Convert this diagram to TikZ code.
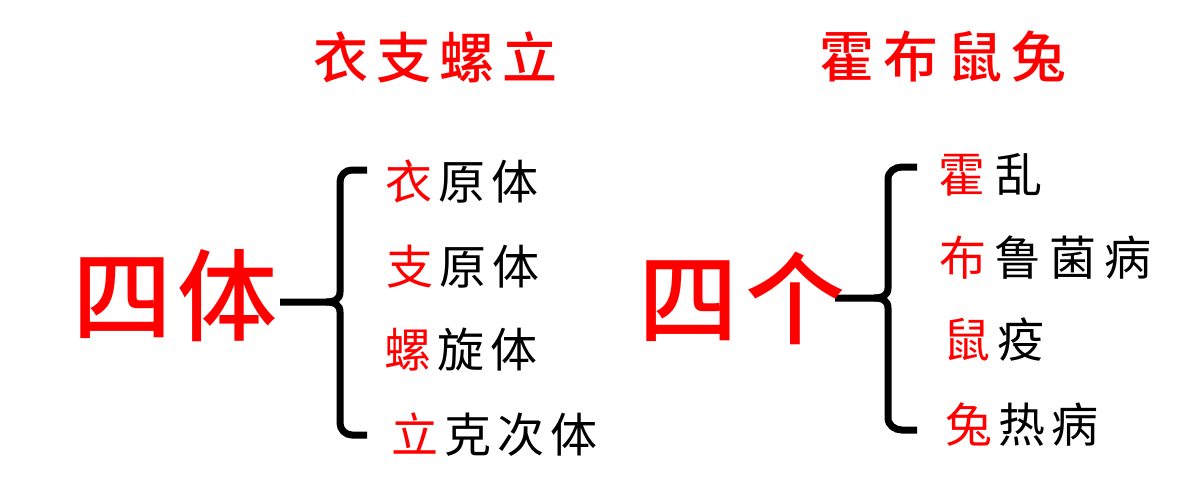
\documentclass[tikz,border=0pt]{standalone}
\usepackage{fontspec}
\newfontfamily\cjk{Noto Sans CJK SC}
\newfontfamily\cjkb{Noto Sans CJK SC Medium}
\newlength\cpitch
\newcommand\cb[1]{\makebox[\cpitch]{#1}}
\newcommand\rc[1]{\textcolor{red}{#1}}
\begin{document}
\begin{tikzpicture}[x=1pt,y=-1pt,
  title/.style={inner sep=0pt,anchor=west,text=red,font=\cjkb\fontsize{55}{60}\selectfont},
  big/.style={inner sep=0pt,anchor=west,text=red,font=\cjkb\fontsize{100}{110}\selectfont},
  item/.style={inner sep=0pt,anchor=west,text=black,font=\cjk\fontsize{47}{52}\selectfont},
  bracket/.style={line width=7pt,black,line join=miter}]
\useasboundingbox (0,0) rectangle (1187,499);
% left group
\coordinate (lt) at (367,170);
\coordinate (lb) at (367,435);
\coordinate (lm) at (340,302);
\coordinate (ls) at (280,302);
\draw[bracket] (lt) -- (352,170) to[out=180,in=90] (340,182) -- (340,292)
  .. controls (340,299) and (335,302) .. (326,302) -- (ls);
\draw[bracket] (326,302) .. controls (335,302) and (340,305) .. (340,312)
  -- (340,423) to[out=-90,in=180] (352,435) -- (lb);
\node[title] (t1) at (309.5,57) {\setlength\cpitch{63pt}\cb{衣}\cb{支}\cb{螺}\cb{立}};
\node[big] (L) at (70,296) {\setlength\cpitch{105pt}\cb{四}\cb{体}};
\node[item] (l1) at (382.5,182) {\setlength\cpitch{53pt}\cb{\rc{衣}}\cb{原}\cb{体}};
\node[item] (l2) at (383.5,267) {\setlength\cpitch{53pt}\cb{\rc{支}}\cb{原}\cb{体}};
\node[item] (l3) at (381.5,350) {\setlength\cpitch{53pt}\cb{\rc{螺}}\cb{旋}\cb{体}};
\node[item] (l4) at (388,435) {\setlength\cpitch{53pt}\cb{\rc{立}}\cb{克}\cb{次}\cb{体}};
% right group
\coordinate (rt) at (917,167);
\coordinate (rb) at (917,430);
\coordinate (rs) at (835,298);
\draw[bracket] (rt) -- (902,167) to[out=180,in=90] (888,179) -- (888,288)
  .. controls (888,295) and (883,298) .. (874,298) -- (rs);
\draw[bracket] (874,298) .. controls (883,298) and (888,301) .. (888,308)
  -- (888,418) to[out=-90,in=180] (902,430) -- (rb);
\node[title] (t2) at (815,57) {\setlength\cpitch{64pt}\cb{霍}\cb{布}\cb{鼠}\cb{兔}};
\node[big] (R) at (635,298) {\setlength\cpitch{107pt}\cb{四}\cb{个}};
\node[item] (r1) at (933,175) {\setlength\cpitch{57pt}\cb{\rc{霍}}\cb{乱}};
\node[item] (r2) at (935.5,258) {\setlength\cpitch{55pt}\cb{\rc{布}}\cb{鲁}\cb{菌}\cb{病}};
\node[item] (r3) at (939.5,340) {\setlength\cpitch{54pt}\cb{\rc{鼠}}\cb{疫}};
\node[item] (r4) at (942,425) {\setlength\cpitch{53pt}\cb{\rc{兔}}\cb{热}\cb{病}};
\end{tikzpicture}
\end{document}
